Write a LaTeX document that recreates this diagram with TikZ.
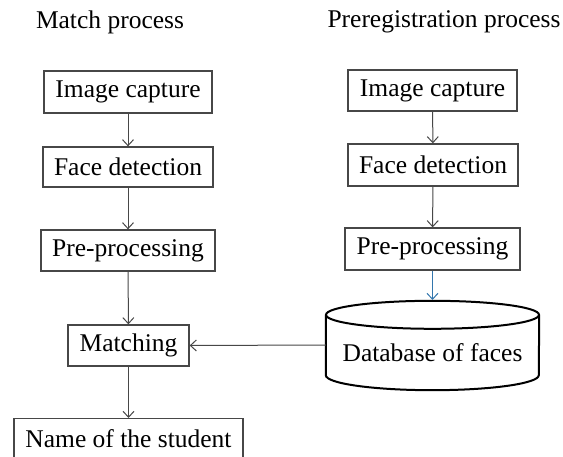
\documentclass[tikz,border=0pt]{standalone}
\usepackage{fontspec}
\setmainfont{Liberation Serif}
\usetikzlibrary{arrows.meta}
\begin{document}
\begin{tikzpicture}[x=1pt,y=-1pt,
  every node/.style={font=\fontsize{25.5}{30}\selectfont, inner sep=0pt},
  box/.style={draw=black!72, line width=1.3pt, fill=white},
  conn/.style={draw=black!72, line width=1pt, -{Straight Barb[length=6pt,width=11pt,line width=1pt]}},
  blueconn/.style={draw=blue!45!cyan!60!black!80, line width=1pt, -{Straight Barb[length=6pt,width=11pt,line width=1pt]}},
  title/.style={}]
\useasboundingbox (0,0) rectangle (563,457);
% titles
\node[title] (t1) at (110,22) {Match process};
\node[title] (t2) at (444,22) {Preregistration process};
% left column
\node[box, minimum width=168pt, minimum height=42pt] (ic1) at (128,92) {Image capture};
\node[box, minimum width=170pt, minimum height=40pt] (fd1) at (128,167) {Face detection};
\node[box, minimum width=174pt, minimum height=41pt] (pp1) at (128,250.5) {Pre-processing};
\node[box, minimum width=121pt, minimum height=41pt] (m) at (128.5,345.5) {Matching};
\node[box, minimum width=229pt, minimum height=46pt, anchor=north] (name) at (128.5,418) {};
\node (namet) at (128.5,438.5) {Name of the student};
% right column
\node[box, minimum width=169pt, minimum height=41pt] (ic2) at (432.5,90.5) {Image capture};
\node[box, minimum width=170pt, minimum height=42pt] (fd2) at (433,165) {Face detection};
\node[box, minimum width=175pt, minimum height=42pt] (pp2) at (432.5,249) {Pre-processing};
% database cylinder
\node[minimum width=213pt, minimum height=60pt] (db) at (432.5,345) {};
\draw[line width=2pt, fill=white] (db.north west) -- (db.south west)
  arc[start angle=180, end angle=360, x radius=106.5pt, y radius=15pt]
  -- (db.north east);
\draw[line width=2pt] (db.north) ellipse[x radius=106.5pt, y radius=14pt];
\node (dbt) at (432.5,353) {Database of faces};
\coordinate (dbtop) at (432.5,300);
% connectors
\draw[conn] (ic1) -- (fd1);
\draw[conn] (fd1) -- (pp1);
\draw[conn] (pp1) -- (m);
\draw[conn] (m) -- (name);
\draw[conn] (ic2) -- (fd2);
\draw[conn] (fd2) -- (pp2);
\draw[blueconn] (pp2) -- (dbtop);
\draw[conn] (db.west) -- (m.east);
\end{tikzpicture}
\end{document}
